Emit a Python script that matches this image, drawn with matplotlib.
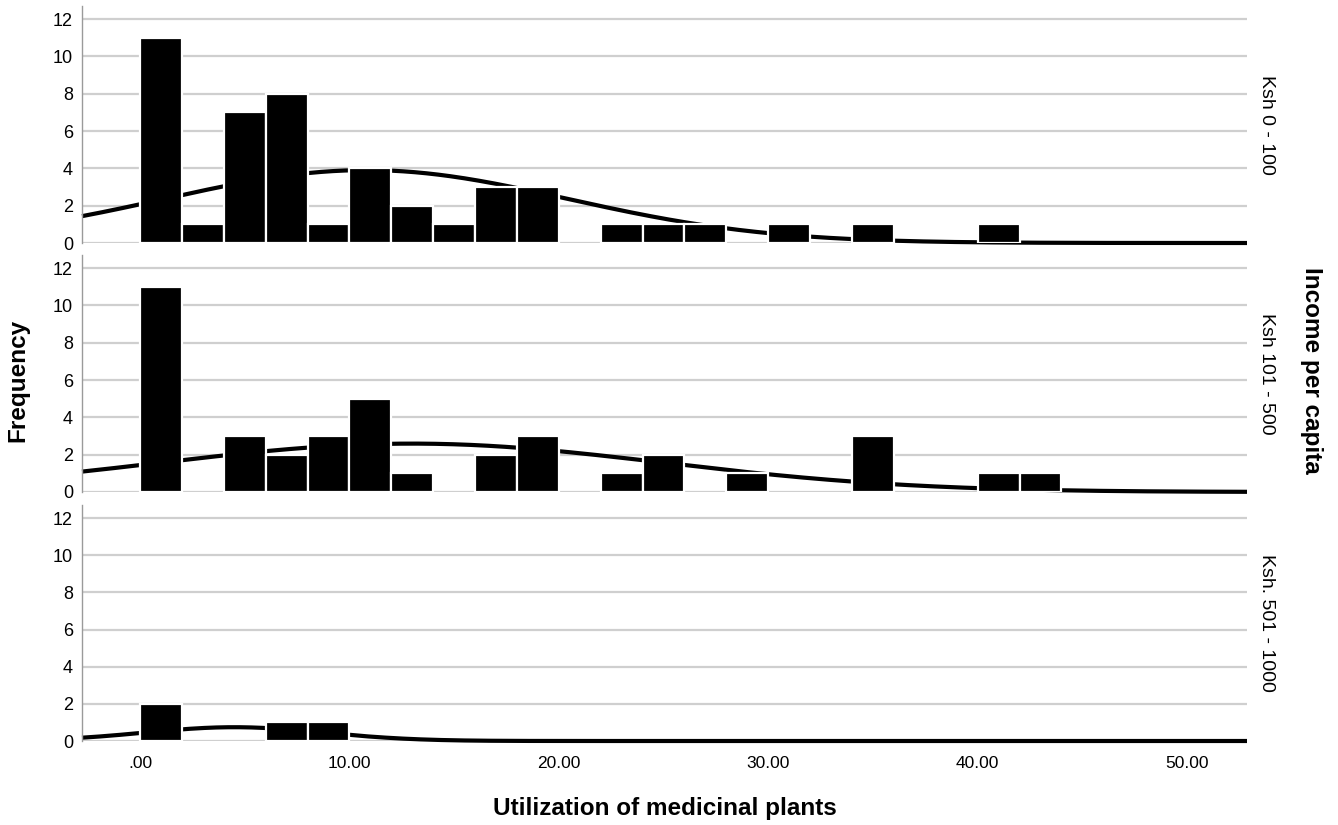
import numpy as np
import matplotlib
matplotlib.use("Agg")
import matplotlib.pyplot as plt

plt.rcParams["font.family"] = ["Liberation Sans", "DejaVu Sans"]

# --- data ---------------------------------------------------------
bin_width  = 2.0
bin_starts = [0, 2, 4, 6, 8, 10, 12, 14, 16, 18, 20, 22, 24, 26, 28,
              30, 32, 34, 36, 38, 40, 42, 44]

groups = ["Ksh 0 - 100", "Ksh 101 - 500", "Ksh. 501 - 1000"]

counts_0_100    = [11, 1, 7, 8, 1, 4, 2, 1, 3, 3, 0, 1, 1, 1, 0,
                   1, 0, 1, 0, 0, 1, 0, 0]
counts_101_500  = [11, 0, 3, 2, 3, 5, 1, 0, 2, 3, 0, 1, 2, 0, 1,
                   0, 0, 3, 0, 0, 1, 1, 0]
counts_501_1000 = [2, 0, 0, 1, 1, 0, 0, 0, 0, 0, 0, 0, 0, 0, 0,
                   0, 0, 0, 0, 0, 0, 0, 0]

# normal curve parameters per panel (mean, sd)
curve_mean = [10.8, 13.0, 4.5]
curve_sd   = [9.6, 12.0, 4.3]

x_ticks  = [0, 10, 20, 30, 40, 50]
x_labels = [".00", "10.00", "20.00", "30.00", "40.00", "50.00"]
y_ticks  = [0, 2, 4, 6, 8, 10, 12]

all_counts = [counts_0_100, counts_101_500, counts_501_1000]

# --- figure ---------------------------------------------------------
W, H = 1338, 825
fig = plt.figure(figsize=(W / 100, H / 100), dpi=100)

left, right = 82, 1247
panels_px = [(6, 243), (255, 492), (505, 741)]  # (top, bottom) in px

XMIN, XMAX = -2.77, 52.86
YMAX = 12.7
grid_col = "#cfcfcf"

for i, (top, bottom) in enumerate(panels_px):
    ax = fig.add_axes([left / W, 1 - bottom / H,
                       (right - left) / W, (bottom - top) / H])
    counts = all_counts[i]

    # grid lines
    for y in y_ticks:
        ax.axhline(y, color=grid_col, linewidth=1.6, zorder=1)

    # normal curve
    n = sum(counts)
    xs = np.linspace(XMIN, XMAX, 400)
    m, s = curve_mean[i], curve_sd[i]
    ys = n * bin_width / (s * np.sqrt(2 * np.pi)) * np.exp(-0.5 * ((xs - m) / s) ** 2)
    ax.plot(xs, ys, color="black", linewidth=3.0, zorder=2, clip_on=False,
            solid_capstyle="butt")

    # histogram bars (skip empty bins so no white edge lands on the curve)
    bx = [b for b, c in zip(bin_starts, counts) if c > 0]
    bh = [c for c in counts if c > 0]
    ax.bar(bx, bh, width=bin_width, align="edge",
           color="black", edgecolor="white", linewidth=1.6, zorder=3)

    ax.set_xlim(XMIN, XMAX)
    ax.set_ylim(0, YMAX)
    ax.set_yticks(y_ticks)
    ax.set_yticklabels([str(v) for v in y_ticks], fontsize=13)
    ax.tick_params(axis="y", length=0, pad=6.5)

    for sp in ["top", "right", "bottom"]:
        ax.spines[sp].set_visible(False)
    ax.spines["left"].set_color("#9a9a9a")
    ax.spines["left"].set_linewidth(1.0)

    if i == 2:
        ax.set_xticks(x_ticks)
        ax.set_xticklabels(x_labels, fontsize=12.5)
        ax.tick_params(axis="x", length=0, pad=11)
    else:
        ax.set_xticks([])

    # panel label on the right
    ax.text(1.0094, 0.5, groups[i], transform=ax.transAxes, rotation=-90,
            ha="left", va="center", fontsize=14)

# axis titles
fig.text(18 / W, 1 - 380 / H, "Frequency", rotation=90, ha="center",
         va="center", fontsize=17.5, fontweight="bold")
fig.text(1311 / W, 1 - 370 / H, "Income per capita", rotation=-90,
         ha="center", va="center", fontsize=17.5, fontweight="bold")
fig.text(665 / W, 1 - 808 / H, "Utilization of medicinal plants",
         ha="center", va="center", fontsize=17.5, fontweight="bold")

fig.savefig("out.png", dpi=100)
